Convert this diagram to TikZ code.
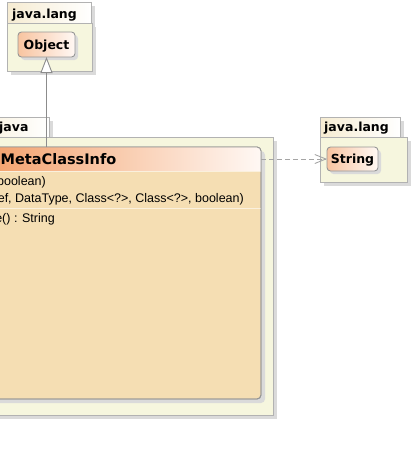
\documentclass[tikz,border=0pt]{standalone}
\usepackage{fontspec}
\setmainfont{Liberation Sans}
\newfontfamily\umlbold{DejaVu Sans}
\usetikzlibrary{arrows.meta,shadows}

\definecolor{pkgfill}{RGB}{246,246,222}
\definecolor{pkgline}{RGB}{178,178,178}
\definecolor{shadowgray}{RGB}{218,218,218}
\definecolor{tabcream}{RGB}{246,236,210}
\definecolor{classfill}{RGB}{245,222,179}
\definecolor{classline}{RGB}{150,150,150}
\definecolor{hdrorange}{RGB}{242,155,98}
\definecolor{hdrwhite}{RGB}{255,248,244}
\definecolor{nodeorange}{RGB}{238,138,78}
\definecolor{nodepeach}{RGB}{248,196,160}
\definecolor{linegray}{RGB}{140,140,140}
\definecolor{dashgray}{RGB}{165,165,165}

\def\xunit{1pt}
\def\yunit{-1pt}
\newcommand{\boldname}{\umlbold\bfseries\fontsize{12.5}{14}\selectfont}
\newcommand{\classname}{\umlbold\bfseries\fontsize{14.5}{16}\selectfont}

\tikzset{
  boxbase/.style={anchor=north west, inner sep=0pt, outer sep=0pt, line width=0.9pt},
  pkgshadow/.style={general shadow={shadow xshift=4pt, shadow yshift=-4pt, fill=shadowgray}},
  pkgtab/.style={boxbase, pkgshadow, draw=pkgline, left color=tabcream, right color=white},
  pkgbody/.style={boxbase, pkgshadow, draw=pkgline, fill=pkgfill},
  umlnode/.style={boxbase, draw=classline, rounded corners=3.5pt,
    left color=nodepeach, middle color=nodeorange, right color=hdrwhite,
    general shadow={shadow xshift=3pt, shadow yshift=-3pt, fill=shadowgray},
    font=\boldname, text height=9pt, text depth=0pt},
  classbox/.style={boxbase, draw=classline, fill=classfill, rounded corners=4pt,
    general shadow={shadow xshift=4pt, shadow yshift=-4pt, fill=shadowgray}},
  pkgname/.style={anchor=base west, inner sep=0pt, font=\boldname},
  member/.style={anchor=base east, inner sep=0pt, font=\fontsize{12.5}{14}\selectfont},
  genline/.style={draw=linegray, line width=0.9pt, -{Triangle[length=16pt, width=12pt, fill=white]}},
  depline/.style={draw=dashgray, line width=0.9pt, dash pattern=on 5pt off 3pt,
    -{Straight Barb[length=11pt, width=9pt]}},
}

\begin{document}
\begin{tikzpicture}[x=\xunit, y=\yunit]
\useasboundingbox (0,0) rectangle (413,456);

% ---- top package java.lang with Object ----
\node[pkgtab, minimum width=84pt, minimum height=21pt] (langtab) at (7,2) {};
\node[pkgbody, minimum width=85pt, minimum height=48pt] (langpkg) at (7,23) {};
\node[pkgname] (langname) at (12,18) {java.lang};
\node[umlnode, minimum width=57pt, minimum height=25pt] (obj) at (18,32) {Object};

% ---- package java with MetaClassInfo ----
\node[pkgtab, minimum width=94pt, minimum height=20pt] (javatab) at (-45,117) {};
\node[pkgbody, minimum width=318pt, minimum height=278pt] (javapkg) at (-45,137) {};
\node[pkgname] (javaname) at (-1,131.5) {java};
\node[classbox, minimum width=294pt, minimum height=252pt] (meta) at (-33,147) {};
\begin{scope}
  \clip[rounded corners=4pt] (meta.north west) rectangle (meta.south east);
  \shade[left color=hdrorange, right color=hdrwhite] (meta.north west) rectangle ([yshift=-24pt]meta.north east);
\end{scope}
\draw[white!55!classfill, line width=0.9pt] ([yshift=-24pt]meta.north west) -- ([yshift=-24pt]meta.north east);
\draw[white!55!classfill, line width=0.9pt] ([yshift=-61pt]meta.north west) -- ([yshift=-61pt]meta.north east);
\draw[classline, line width=0.9pt, rounded corners=4pt] (meta.north west) rectangle (meta.south east);
\node[pkgname, font=\classname] (metaname) at (0.5,164) {MetaClassInfo};
\node[member] (ctor1) at (46,185.5) {boolean)};
\node[member] (ctor2) at (244,202.5) {ef, DataType, Class<?>, Class<?>, boolean)};
\node[member] (op1) at (55,222.5) {e() : String};

% ---- package java.lang with String ----
\node[pkgtab, minimum width=80pt, minimum height=20pt] (strtab) at (320,117) {};
\node[pkgbody, minimum width=87pt, minimum height=45pt] (strpkg) at (320,137) {};
\node[pkgname] (strname) at (324,131) {java.lang};
\node[umlnode, minimum width=51pt, minimum height=24pt] (str) at (327,147) {String};

% ---- links ----
\draw[genline] (obj.south |- meta.north) -- (obj.south);
\draw[depline] (meta.east |- str.west) -- (str.west);

\end{tikzpicture}
\end{document}
